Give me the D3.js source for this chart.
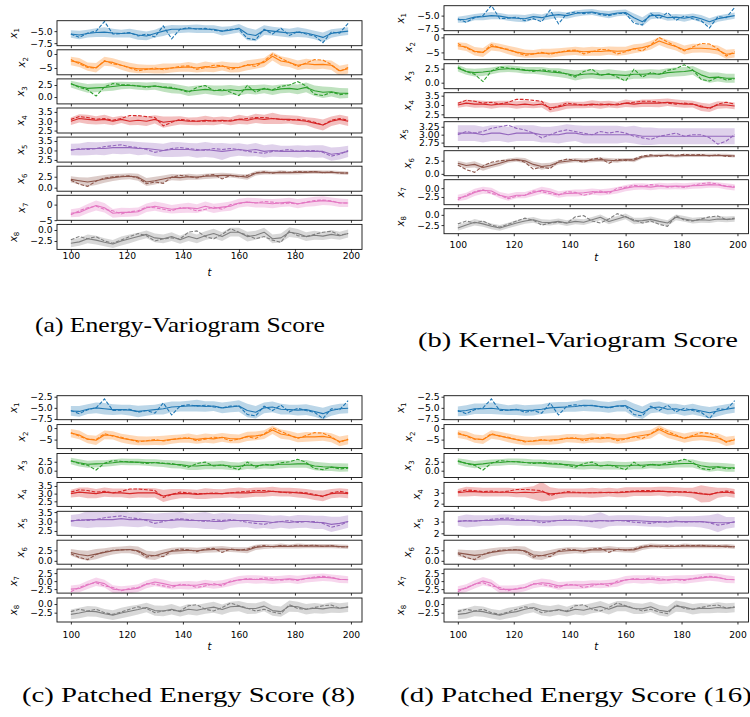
<!DOCTYPE html>
<html>
<head>
<meta charset="utf-8">
<script src="https://cdn.jsdelivr.net/npm/d3@7"></script>
<style>
  body { margin: 0; background: #fff; }
</style>
</head>
<body>
<svg id="fig" width="750" height="717"></svg>
<script>
// Data: time grid, shared ground truth, per-panel forecast mean and half-width of the band

const tGrid = [100,103,106,109,112,115,118,121,124,127,130,133,136,139,142,145,148,151,154,157,160,163,166,169,172,175,178,181,184,187,190,193,196,199];
const xTicks = [100, 120, 140, 160, 180, 200];
const seriesColors = ["#1f77b4","#ff7f0e","#2ca02c","#d62728","#9467bd","#8c564b","#e377c2","#7f7f7f"];
const seriesNames = ["1","2","3","4","5","6","7","8"];
const captions = ["(a) Energy-Variogram Score", "(b) Kernel-Variogram Score",
                  "(c) Patched Energy Score (8)", "(d) Patched Energy Score (16)"];

// dashed line (same observations in every panel)
const truth = [
  [-5.6,-6.3,-5.4,-5.0,-3.0,-5.6,-5.5,-5.3,-6.0,-5.6,-6.2,-3.9,-6.6,-4.6,-4.3,-4.6,-4.4,-4.8,-5.0,-4.6,-4.6,-6.5,-6.8,-4.6,-5.6,-4.4,-5.9,-5.1,-5.6,-6.0,-7.4,-5.2,-5.4,-3.4],
  [-2.0,-3.5,-4.8,-5.0,-2.4,-3.5,-4.0,-5.0,-6.0,-5.5,-5.0,-5.6,-5.0,-4.4,-4.2,-5.5,-4.8,-4.0,-4.2,-5.5,-4.8,-3.8,-4.5,-2.5,0.0,-1.5,-3.0,-4.5,-3.2,-2.0,-2.2,-3.8,-6.2,-4.8],
  [2.8,2.0,1.5,0.2,2.1,2.8,2.6,2.5,2.3,2.0,2.3,2.1,2.0,1.5,1.0,2.0,2.4,1.3,1.6,1.0,0.3,2.4,1.0,1.8,1.5,2.2,2.5,3.2,2.3,0.6,0.3,1.0,0.5,0.7],
  [3.1,3.25,3.2,3.1,3.15,3.05,3.15,3.3,3.3,3.25,3.2,2.75,2.95,3.1,3.05,3.0,3.0,3.05,3.0,3.05,3.1,3.15,3.2,3.2,3.15,3.1,3.05,3.1,3.05,2.95,2.8,3.05,3.15,3.05],
  [3.0,3.1,3.05,3.1,3.2,3.25,3.3,3.2,3.15,3.05,2.9,3.0,3.1,3.15,3.1,3.05,3.0,3.1,3.05,3.1,3.05,2.95,2.9,2.85,2.95,3.0,3.05,2.95,3.0,3.0,2.9,2.7,2.8,3.0],
  [1.7,0.8,0.3,1.5,2.2,2.5,2.6,2.7,2.2,0.9,1.3,1.0,2.4,2.8,2.6,2.2,2.8,3.0,2.0,2.8,2.5,2.8,3.4,3.6,3.3,3.6,3.5,3.7,3.6,3.7,3.4,3.6,3.3,3.4],
  [-3.3,-2.0,-1.0,-0.5,-1.5,-2.0,-3.0,-2.3,-2.0,-0.8,-1.0,-1.5,-2.0,-1.0,-1.2,-2.0,-1.5,-0.8,-1.5,0.0,0.3,0.8,0.5,1.0,0.8,0.3,0.5,0.2,0.8,1.3,1.5,1.2,0.5,0.5],
  [-2.2,-1.5,-2.0,-1.5,-2.5,-3.0,-2.3,-1.5,-0.8,-1.3,-2.5,-2.0,-1.8,-2.0,-0.5,-0.2,-1.5,-2.0,-1.0,0.3,-0.5,-1.2,-2.0,-1.5,-2.3,-2.8,-0.2,-1.3,-1.5,-1.0,-0.5,-0.3,-1.2,-0.8]
];

// (a) Energy-Variogram Score
const meanA = [
  [-5.6,-5.8,-5.5,-5.3,-5.2,-5.4,-5.5,-5.4,-5.8,-6.0,-5.5,-5.0,-4.6,-4.6,-4.5,-4.5,-4.6,-4.6,-5.0,-4.8,-4.4,-5.6,-5.9,-4.8,-5.0,-5.2,-5.4,-5.2,-5.4,-5.8,-6.3,-5.5,-5.2,-5.0],
  [-2.5,-3.0,-4.5,-4.9,-2.6,-3.0,-4.0,-4.8,-5.3,-5.3,-5.4,-5.2,-5.0,-4.8,-4.6,-5.0,-4.5,-4.8,-4.3,-4.8,-4.8,-4.0,-3.6,-3.0,-0.8,-2.5,-3.0,-4.0,-3.5,-3.8,-3.7,-4.0,-6.0,-5.3],
  [2.7,2.2,1.8,1.9,2.0,2.2,2.4,2.4,2.3,2.2,2.3,2.0,1.8,1.6,1.2,1.4,1.6,1.4,1.3,1.5,1.3,1.6,1.5,1.7,1.4,1.7,1.8,1.6,2.0,1.3,1.0,1.1,0.8,0.8],
  [3.0,3.15,3.1,3.05,3.1,3.0,3.1,3.0,3.05,3.0,3.1,2.95,3.0,3.05,3.0,3.0,3.05,3.0,3.05,3.0,3.1,3.05,3.15,3.1,3.15,3.1,3.1,3.05,3.0,2.9,2.8,3.0,3.1,3.0],
  [3.05,3.05,3.1,3.1,3.1,3.15,3.15,3.15,3.1,3.1,3.05,3.0,3.05,3.05,3.05,3.0,3.05,3.0,2.95,3.0,3.05,3.0,3.05,2.95,3.0,2.95,2.95,2.95,2.95,2.95,2.95,2.8,2.85,2.95],
  [1.9,1.6,1.3,1.6,2.0,2.3,2.5,2.6,2.4,1.3,1.6,2.0,2.4,2.3,2.5,2.4,2.6,2.7,2.8,2.8,2.6,2.4,3.3,3.5,3.4,3.5,3.4,3.5,3.5,3.6,3.5,3.5,3.4,3.3],
  [-2.8,-2.5,-1.3,-0.3,-1.0,-2.8,-2.5,-2.5,-2.3,-1.0,-0.5,-1.0,-1.5,-1.2,-1.0,-1.3,-0.5,-1.2,-0.8,-0.5,0.5,0.8,0.6,0.5,0.3,0.6,0.8,0.3,0.7,1.0,1.3,1.0,0.6,0.5],
  [-3.0,-2.7,-2.0,-2.3,-2.8,-3.2,-2.5,-2.0,-1.5,-1.0,-1.8,-2.0,-1.5,-2.2,-1.5,-2.0,-1.3,-0.8,-1.5,-0.5,-0.5,-1.5,-1.2,-0.5,-2.0,-1.8,-0.5,-0.8,-1.5,-1.2,-1.4,-1.0,-1.3,-0.8]
];
const hwA = [
  [0.8,0.9,0.8,0.9,1.0,0.9,0.8,0.9,1.0,0.9,0.8,1.0,0.9,0.8,0.8,0.9,0.8,0.8,0.9,0.8,0.9,1.3,1.2,1.0,0.9,0.9,0.9,1.0,0.9,0.9,1.0,0.9,0.8,0.8],
  [1.5,1.6,1.5,1.7,1.6,1.5,1.6,1.7,1.6,1.5,1.6,1.8,1.6,1.5,1.7,1.6,1.8,1.7,1.6,1.8,1.7,1.8,1.7,1.6,1.5,1.7,1.6,1.7,1.8,1.7,1.6,1.7,1.8,1.7],
  [0.7,0.8,0.9,0.9,0.8,0.9,0.8,0.7,0.8,0.8,0.8,0.9,1.0,0.9,1.0,1.0,0.9,1.0,1.1,1.0,1.0,0.9,1.0,0.9,1.0,0.9,0.9,1.0,1.0,1.1,1.2,1.0,1.1,1.0],
  [0.2,0.22,0.25,0.22,0.25,0.22,0.2,0.22,0.25,0.25,0.22,0.3,0.25,0.22,0.2,0.22,0.25,0.22,0.2,0.22,0.25,0.22,0.25,0.25,0.3,0.25,0.22,0.25,0.22,0.28,0.3,0.25,0.25,0.25],
  [0.3,0.32,0.35,0.33,0.35,0.33,0.35,0.33,0.35,0.32,0.35,0.35,0.4,0.38,0.35,0.38,0.4,0.38,0.45,0.35,0.33,0.32,0.35,0.32,0.33,0.3,0.3,0.33,0.3,0.33,0.32,0.35,0.33,0.3],
  [0.7,0.8,1.0,1.0,0.9,0.8,0.7,0.7,0.8,0.9,0.9,0.8,0.7,0.7,0.7,0.6,0.6,0.6,0.6,0.5,0.5,0.6,0.5,0.5,0.4,0.5,0.4,0.5,0.4,0.4,0.4,0.4,0.4,0.4],
  [1.3,1.4,1.5,1.6,1.5,1.4,1.5,1.4,1.4,1.4,1.5,1.5,1.4,1.5,1.6,1.4,1.5,1.5,1.4,1.5,1.4,1.4,1.5,1.4,1.5,1.4,1.4,1.5,1.4,1.5,1.4,1.3,1.4,1.3],
  [0.9,0.9,1.0,1.0,0.9,0.9,1.0,1.0,0.9,0.9,1.0,1.0,1.0,0.9,1.0,1.0,1.0,1.1,1.0,1.0,1.0,1.1,1.0,1.0,1.0,1.0,1.1,1.0,1.0,1.0,0.9,1.0,0.9,0.9]
];
const domA = [[-8.03,-2.83],[-7.43,1.5],[-1.43,3.77],[2.37,3.71],[2.385,3.705],[-0.8,4.9],[-5.05,3.0],[-4.41,1.27]];
const ticksA = [[-5,-7.5],[0,-5],[2.5,0],[3.5,3,2.5],[3.5,3,2.5],[2.5,0],[0,-5],[0,-2.5]];
const decA = [1,0,1,1,1,1,0,1];

// (b) Kernel-Variogram Score
const meanB = [
  [-5.8,-5.7,-5.3,-5.2,-5.0,-5.1,-5.4,-5.5,-5.6,-5.2,-5.4,-5.0,-4.8,-5.0,-4.6,-4.4,-4.3,-4.6,-4.8,-4.5,-4.4,-5.4,-6.2,-5.0,-4.9,-5.4,-5.3,-5.5,-5.2,-5.6,-6.2,-5.6,-5.3,-5.0],
  [-2.8,-3.2,-4.6,-5.0,-3.0,-3.4,-4.2,-4.9,-5.4,-5.5,-5.2,-5.3,-5.0,-4.7,-4.5,-4.8,-4.6,-4.7,-4.4,-4.6,-4.5,-3.8,-3.4,-2.6,-1.2,-2.2,-3.0,-4.2,-3.6,-3.6,-3.8,-4.2,-5.6,-5.3],
  [2.6,2.0,1.8,1.9,2.1,2.4,2.5,2.4,2.2,2.2,2.1,1.9,1.8,1.6,1.3,1.5,1.6,1.4,1.5,1.4,1.3,1.5,1.5,1.6,1.5,1.8,1.9,2.0,2.2,1.4,0.9,1.0,0.8,0.8],
  [3.0,3.1,3.05,3.05,3.0,3.05,3.05,3.0,3.05,3.0,3.05,2.85,2.9,3.0,3.0,3.0,3.05,3.0,3.05,3.0,3.1,3.05,3.1,3.1,3.1,3.15,3.1,3.05,3.05,2.9,2.85,3.0,3.0,2.95],
  [3.05,3.05,3.05,3.0,3.05,3.05,3.0,3.05,3.05,3.05,3.0,3.0,3.0,3.05,3.05,3.0,3.0,3.0,3.0,3.0,3.0,3.0,2.95,2.95,2.95,2.95,2.95,2.95,2.95,2.95,2.95,2.95,2.95,2.95],
  [2.0,1.6,1.8,1.2,1.6,2.0,2.5,2.7,2.5,1.8,1.4,1.6,2.2,2.4,2.6,2.5,2.6,2.7,2.6,2.5,2.7,2.6,3.2,3.4,3.5,3.5,3.4,3.5,3.5,3.5,3.5,3.5,3.5,3.4],
  [-2.8,-2.3,-1.2,-0.6,-0.8,-2.0,-2.6,-2.0,-2.0,-1.3,-0.6,-1.0,-1.8,-1.5,-1.4,-1.3,-1.0,-1.2,-1.0,-0.6,0.0,0.4,0.5,0.3,0.6,0.5,0.6,0.5,0.7,0.8,1.0,0.9,0.5,0.2],
  [-3.2,-2.5,-1.8,-2.2,-2.8,-3.2,-2.6,-2.0,-1.5,-1.2,-1.8,-1.9,-1.6,-2.0,-1.6,-1.8,-1.2,-0.6,-1.6,-1.0,-0.4,-1.5,-1.4,-1.1,-1.6,-2.0,-0.6,-1.0,-1.4,-1.2,-1.3,-1.0,-1.1,-1.0]
];
const hwB = [
  [0.6,0.7,0.6,0.7,0.7,0.6,0.6,0.7,0.7,0.6,0.6,0.7,0.6,0.6,0.6,0.6,0.6,0.6,0.7,0.6,0.6,0.8,0.9,0.7,0.6,0.6,0.6,0.7,0.6,0.7,0.7,0.6,0.6,0.6],
  [1.2,1.3,1.4,1.5,1.4,1.3,1.4,1.5,1.4,1.3,1.4,1.5,1.4,1.3,1.4,1.4,1.5,1.4,1.4,1.5,1.4,1.5,1.4,1.4,1.3,1.4,1.4,1.5,1.5,1.4,1.4,1.5,1.5,1.4],
  [0.6,0.6,0.7,0.7,0.6,0.6,0.6,0.6,0.6,0.6,0.7,0.7,0.8,0.8,0.9,0.8,0.8,0.8,0.9,0.8,0.8,0.8,0.8,0.8,0.8,0.8,0.8,0.8,0.8,0.9,0.9,0.8,0.8,0.8],
  [0.15,0.18,0.2,0.18,0.2,0.18,0.18,0.2,0.2,0.18,0.18,0.25,0.22,0.2,0.18,0.18,0.2,0.2,0.18,0.18,0.2,0.18,0.2,0.2,0.22,0.2,0.2,0.2,0.18,0.22,0.22,0.2,0.18,0.18],
  [0.25,0.25,0.25,0.25,0.25,0.25,0.25,0.25,0.25,0.25,0.25,0.25,0.28,0.28,0.25,0.28,0.28,0.28,0.28,0.28,0.25,0.28,0.28,0.28,0.25,0.25,0.25,0.25,0.25,0.25,0.25,0.25,0.25,0.25],
  [0.5,0.5,0.6,0.6,0.5,0.5,0.4,0.4,0.5,0.5,0.6,0.5,0.4,0.4,0.4,0.4,0.4,0.4,0.4,0.4,0.3,0.4,0.3,0.3,0.3,0.3,0.3,0.3,0.3,0.3,0.3,0.3,0.3,0.3],
  [0.9,1.0,1.0,1.0,0.9,0.9,1.0,0.9,0.9,0.9,1.0,1.0,0.9,0.9,1.0,0.9,0.9,0.9,0.9,0.9,0.9,0.9,0.9,0.9,0.9,0.9,0.9,0.9,0.9,0.9,0.9,0.8,0.9,0.9],
  [0.7,0.7,0.8,0.7,0.7,0.7,0.7,0.7,0.7,0.7,0.7,0.7,0.7,0.7,0.7,0.7,0.7,0.7,0.7,0.7,0.7,0.8,0.7,0.7,0.7,0.7,0.7,0.7,0.7,0.7,0.7,0.7,0.7,0.7]
];
const domB = [[-7.95,-3.06],[-7.43,0.9],[-1.07,3.39],[2.32,3.66],[2.62,3.41],[-0.35,4.4],[-4.7,2.4],[-4.6,1.5]];
const ticksB = [[-5,-7.5],[0,-5],[2.5,0],[3.5,3,2.5],[3.25,3,2.75],[2.5,0],[0,-2.5],[0,-2.5]];
const decB = [1,0,1,1,2,1,1,1];

// (c) Patched Energy Score (8)
const meanC = [
  [-5.7,-5.8,-5.3,-5.0,-5.2,-5.4,-5.4,-5.5,-5.8,-5.6,-5.4,-5.2,-4.8,-4.7,-4.6,-4.5,-4.7,-4.6,-5.0,-4.8,-4.6,-5.6,-6.0,-5.0,-4.8,-5.3,-5.4,-5.5,-5.4,-5.8,-6.3,-5.6,-5.2,-5.1],
  [-2.2,-3.0,-4.8,-5.3,-3.0,-3.2,-4.4,-5.0,-5.5,-5.6,-5.4,-5.4,-4.9,-4.6,-4.4,-4.9,-4.4,-4.7,-4.0,-4.6,-4.7,-3.6,-3.4,-2.8,-0.8,-2.6,-3.2,-4.2,-3.8,-3.8,-3.6,-4.2,-5.8,-5.0],
  [2.7,2.2,1.8,1.9,2.0,2.2,2.5,2.4,2.4,2.3,2.2,2.0,1.8,1.7,1.4,1.3,1.5,1.5,1.6,1.3,1.2,1.6,1.4,1.6,1.6,1.8,1.8,1.9,1.9,1.3,1.1,1.0,0.9,0.9],
  [3.0,3.1,3.05,3.0,3.1,3.05,3.05,3.0,3.05,3.05,3.05,2.85,2.95,3.0,3.0,2.95,3.0,3.0,3.0,3.05,3.05,3.05,3.1,3.1,3.15,3.1,3.1,3.05,3.0,2.9,2.85,3.0,3.05,3.0],
  [3.05,3.05,3.1,3.1,3.1,3.1,3.15,3.1,3.1,3.1,3.05,3.05,3.05,3.1,3.05,3.05,3.05,3.0,3.0,3.05,3.05,3.05,3.0,3.0,2.95,3.0,2.95,3.0,3.0,2.95,2.95,2.85,2.9,3.0],
  [2.0,1.5,1.2,1.6,2.0,2.4,2.6,2.7,2.4,1.4,1.2,1.8,2.3,2.4,2.5,2.4,2.6,2.7,2.8,2.7,2.6,2.5,3.2,3.4,3.4,3.5,3.4,3.5,3.5,3.5,3.5,3.5,3.4,3.3],
  [-2.5,-2.3,-1.2,-0.2,-0.8,-2.5,-2.8,-2.6,-2.2,-1.0,-0.3,-0.8,-1.4,-1.3,-1.3,-1.3,-0.8,-1.2,-0.9,-0.3,0.4,0.6,0.5,0.5,0.3,0.5,0.7,0.4,0.8,1.0,1.2,1.0,0.6,0.4],
  [-3.0,-2.6,-2.1,-2.2,-2.8,-3.2,-2.6,-2.1,-1.6,-1.0,-1.9,-2.0,-1.5,-2.2,-1.5,-1.8,-1.3,-0.9,-1.6,-0.8,-0.6,-1.3,-1.3,-0.6,-1.9,-2.2,-0.6,-0.8,-1.5,-1.2,-1.4,-1.0,-1.2,-0.9]
];
const hwC = [
  [1.1,1.2,1.1,1.2,1.3,1.2,1.1,1.2,1.3,1.2,1.1,1.3,1.2,1.1,1.2,1.3,1.2,1.1,1.2,1.2,1.3,1.5,1.4,1.2,1.2,1.2,1.1,1.2,1.2,1.2,1.3,1.2,1.1,1.1],
  [1.8,1.9,1.8,2.0,1.9,1.8,1.9,2.0,2.0,1.9,1.9,2.1,1.9,1.8,2.0,1.9,2.0,2.0,1.9,2.0,1.9,2.0,1.9,1.9,1.8,2.0,1.9,2.0,2.1,1.9,1.9,2.0,2.1,2.0],
  [0.9,1.0,1.0,1.0,0.9,0.9,0.9,0.9,0.9,0.9,1.0,1.0,1.1,1.1,1.2,1.1,1.1,1.1,1.2,1.1,1.1,1.1,1.1,1.0,1.1,1.1,1.0,1.1,1.1,1.2,1.2,1.1,1.2,1.1],
  [0.25,0.3,0.35,0.3,0.3,0.28,0.28,0.3,0.3,0.32,0.3,0.4,0.35,0.3,0.28,0.3,0.35,0.3,0.28,0.3,0.35,0.3,0.3,0.3,0.3,0.28,0.28,0.3,0.3,0.32,0.35,0.3,0.3,0.3],
  [0.3,0.35,0.45,0.4,0.4,0.38,0.4,0.38,0.4,0.35,0.38,0.4,0.42,0.4,0.38,0.4,0.45,0.4,0.45,0.38,0.35,0.35,0.38,0.35,0.35,0.33,0.33,0.35,0.33,0.35,0.35,0.4,0.35,0.33],
  [0.8,1.0,1.2,1.2,1.0,0.9,0.8,0.9,1.0,1.0,1.0,0.9,0.8,0.8,0.7,0.7,0.7,0.7,0.7,0.6,0.6,0.7,0.6,0.6,0.5,0.6,0.5,0.6,0.5,0.5,0.5,0.5,0.5,0.5],
  [1.1,1.2,1.3,1.3,1.2,1.2,1.2,1.2,1.2,1.2,1.3,1.3,1.2,1.2,1.3,1.2,1.2,1.2,1.2,1.2,1.2,1.2,1.3,1.2,1.2,1.2,1.2,1.3,1.2,1.2,1.2,1.1,1.2,1.1],
  [1.4,1.5,1.5,1.5,1.4,1.4,1.5,1.5,1.4,1.4,1.5,1.5,1.5,1.4,1.5,1.5,1.5,1.6,1.5,1.5,1.5,1.6,1.5,1.5,1.5,1.5,1.6,1.5,1.5,1.5,1.4,1.5,1.4,1.4]
];
const domC = [[-7.66,-2.27],[-8.9,1.5],[-1.9,4.8],[2.17,3.73],[2.27,3.54],[-0.8,4.9],[-3.75,3.75],[-5.2,1.75]];
const ticksC = [[-2.5,-5,-7.5],[0,-5],[2.5,0],[3.5,3,2.5],[3.5,3,2.5],[2.5,0],[2.5,0,-2.5],[0,-2.5]];
const decC = [1,0,1,1,1,1,1,1];

// (d) Patched Energy Score (16)
const meanD = [
  [-5.8,-5.6,-5.2,-5.2,-5.1,-5.3,-5.5,-5.4,-5.6,-5.5,-5.3,-5.0,-4.9,-4.8,-4.7,-4.4,-4.5,-4.7,-4.9,-4.6,-4.5,-5.5,-6.1,-5.0,-4.8,-5.3,-5.2,-5.6,-5.3,-5.7,-6.1,-5.7,-5.3,-5.0],
  [-2.6,-3.2,-4.6,-5.0,-2.8,-3.4,-4.3,-5.0,-5.6,-5.7,-5.3,-5.2,-5.0,-4.4,-4.5,-4.8,-4.3,-4.6,-4.2,-4.8,-4.5,-3.8,-3.2,-2.6,-0.6,-2.4,-3.4,-4.4,-3.6,-3.4,-3.8,-4.3,-5.8,-5.2],
  [2.6,2.1,1.7,1.9,2.2,2.3,2.5,2.5,2.3,2.2,2.1,1.9,1.8,1.7,1.5,1.4,1.6,1.4,1.5,1.4,1.3,1.5,1.5,1.7,1.6,1.7,1.9,2.0,2.0,1.4,1.0,1.1,0.9,0.8],
  [3.0,3.1,3.1,3.05,3.05,3.05,3.05,3.0,3.05,3.0,3.1,2.9,2.95,3.0,3.0,3.0,3.0,3.0,3.05,3.0,3.05,3.1,3.1,3.1,3.15,3.1,3.1,3.05,3.0,2.9,2.85,3.0,3.05,2.95],
  [3.05,3.05,3.05,3.1,3.1,3.15,3.15,3.1,3.1,3.1,3.05,3.05,3.1,3.1,3.1,3.05,3.05,3.1,3.05,3.1,3.1,3.1,3.05,3.0,3.0,2.95,3.0,3.0,3.0,3.0,2.95,2.9,2.9,2.95],
  [1.9,1.6,1.3,1.5,2.0,2.3,2.5,2.6,2.4,1.4,1.2,1.7,2.2,2.4,2.5,2.4,2.6,2.6,2.8,2.7,2.6,2.6,3.2,3.5,3.5,3.4,3.4,3.5,3.5,3.5,3.5,3.4,3.5,3.3],
  [-2.8,-2.2,-1.0,0.0,-0.7,-2.6,-2.6,-2.5,-2.0,-1.0,-0.5,-0.8,-1.5,-1.3,-1.2,-1.2,-0.9,-1.0,-0.8,-0.5,0.4,0.6,0.5,0.6,0.3,0.4,0.6,0.5,0.7,1.0,1.3,1.1,0.6,0.4],
  [-3.0,-2.7,-2.0,-2.2,-2.8,-3.2,-2.6,-2.2,-1.5,-1.0,-1.8,-2.1,-1.6,-2.2,-1.5,-1.8,-1.2,-0.7,-1.5,-0.6,-0.6,-1.3,-1.4,-0.8,-1.8,-2.2,-0.6,-0.9,-1.5,-1.2,-1.3,-1.0,-1.2,-1.0]
];
const hwD = [
  [1.1,1.2,1.2,1.2,1.3,1.2,1.1,1.2,1.2,1.2,1.1,1.2,1.2,1.1,1.2,1.3,1.3,1.2,1.2,1.2,1.3,1.5,1.4,1.2,1.2,1.2,1.1,1.2,1.2,1.2,1.3,1.2,1.1,1.1],
  [1.7,1.8,1.8,1.9,1.8,1.8,1.9,1.9,1.9,1.8,1.9,2.0,1.9,1.8,1.9,1.9,2.0,1.9,1.9,2.0,1.9,2.0,1.9,1.9,1.8,1.9,1.9,2.0,2.0,1.9,1.9,2.0,2.0,1.9],
  [0.9,1.0,1.0,1.0,0.9,0.9,0.9,0.9,1.0,0.9,1.0,1.0,1.1,1.1,1.1,1.1,1.1,1.1,1.2,1.1,1.1,1.1,1.1,1.0,1.1,1.1,1.0,1.1,1.1,1.2,1.3,1.1,1.2,1.1],
  [0.35,0.45,0.4,0.4,0.4,0.4,0.4,0.4,0.45,0.6,0.9,0.6,0.45,0.4,0.4,0.4,0.45,0.4,0.4,0.4,0.45,0.4,0.4,0.4,0.4,0.45,0.4,0.4,0.45,0.8,0.7,0.45,0.4,0.4],
  [0.4,0.55,0.5,0.45,0.45,0.45,0.45,0.45,0.45,0.45,0.45,0.45,0.45,0.45,0.45,0.45,0.55,0.7,0.45,0.45,0.45,0.45,0.45,0.45,0.45,0.45,0.45,0.45,0.45,0.5,0.6,0.8,0.5,0.45],
  [0.8,1.0,1.2,1.2,1.0,0.9,0.8,0.9,1.0,1.0,1.0,0.9,0.8,0.8,0.7,0.7,0.7,0.7,0.7,0.6,0.6,0.7,0.6,0.6,0.5,0.6,0.5,0.6,0.5,0.5,0.5,0.5,0.5,0.5],
  [1.2,1.2,1.3,1.3,1.2,1.2,1.2,1.2,1.2,1.2,1.3,1.3,1.2,1.2,1.3,1.2,1.2,1.2,1.2,1.3,1.2,1.2,1.3,1.2,1.3,1.2,1.2,1.3,1.2,1.2,1.2,1.2,1.2,1.1],
  [1.4,1.5,1.5,1.5,1.4,1.4,1.5,1.5,1.4,1.4,1.5,1.5,1.5,1.4,1.5,1.5,1.5,1.6,1.5,1.5,1.5,1.6,1.5,1.5,1.5,1.5,1.6,1.5,1.5,1.5,1.4,1.5,1.4,1.4]
];
const domD = [[-7.66,-2.27],[-8.9,1.5],[-1.9,4.8],[1.75,3.95],[1.83,3.88],[-0.8,4.9],[-3.75,3.75],[-5.2,1.75]];
const ticksD = [[-2.5,-5,-7.5],[0,-5],[2.5,0],[3,2],[3,2],[2.5,0],[2.5,0,-2.5],[0,-2.5]];
const decD = [1,0,1,0,0,1,1,1];

// Layout of the four panels
const panels = [
  {left: 57,  right: 362,   top: 20.7,  pitch: 29.1, h: 25, mean: meanA, hw: hwA, dom: domA, ticks: ticksA, dec: decA,
   xLabY: 259, tLabY: 276, cap: {x: 35, y: 332, len: 290}},
  {left: 444, right: 748.5, top: 5.7,   pitch: 29.0, h: 25, mean: meanB, hw: hwB, dom: domB, ticks: ticksB, dec: decB,
   xLabY: 248.5, tLabY: 261, cap: {x: 418, y: 347, len: 320}},
  {left: 57,  right: 362,   top: 395.7, pitch: 28.9, h: 24, mean: meanC, hw: hwC, dom: domC, ticks: ticksC, dec: decC,
   xLabY: 637.5, tLabY: 650, cap: {x: 22, y: 702, len: 333}},
  {left: 444, right: 748.5, top: 395.7, pitch: 28.9, h: 24, mean: meanD, hw: hwD, dom: domD, ticks: ticksD, dec: decD,
   xLabY: 637.5, tLabY: 650, cap: {x: 400, y: 702, len: 352}}
];

const svg = d3.select("#fig");
const defs = svg.append("defs");
const tickFont = "DejaVu Sans";
const tickSize = 9.2;
const captionFont = "'Liberation Serif', 'DejaVu Serif', serif";

function drawPanel(p, pi) {
  const x = d3.scaleLinear().domain([95.05, 203.95]).range([p.left, p.right]);

  for (let i = 0; i < 8; i++) {
    const top = p.top + i * p.pitch;
    const y = d3.scaleLinear().domain(p.dom[i]).range([top + p.h, top]);
    const g = svg.append("g");

    const clipId = "clip" + pi + "_" + i;
    defs.append("clipPath").attr("id", clipId)
      .append("rect").attr("x", p.left).attr("y", top)
      .attr("width", p.right - p.left).attr("height", p.h);

    const rows = tGrid.map((t, k) => ({t: t, m: p.mean[i][k], w: p.hw[i][k], v: truth[i][k]}));
    const plot = g.append("g").attr("clip-path", "url(#" + clipId + ")");

    // uncertainty band
    plot.append("path").datum(rows)
      .attr("fill", seriesColors[i]).attr("fill-opacity", 0.3)
      .attr("d", d3.area().x(d => x(d.t)).y0(d => y(d.m - d.w)).y1(d => y(d.m + d.w)));
    // forecast mean
    plot.append("path").datum(rows)
      .attr("fill", "none").attr("stroke", seriesColors[i]).attr("stroke-width", 1.1)
      .attr("stroke-linejoin", "round")
      .attr("d", d3.line().x(d => x(d.t)).y(d => y(d.m)));
    // observations, dashed
    plot.append("path").datum(rows)
      .attr("fill", "none").attr("stroke", seriesColors[i]).attr("stroke-width", 1.1)
      .attr("stroke-dasharray", "3.7,1.6")
      .attr("d", d3.line().x(d => x(d.t)).y(d => y(d.v)));

    // y axis
    const fmt = d3.format("." + p.dec[i] + "f");
    const ya = g.append("g").attr("transform", "translate(" + p.left + ",0)")
      .call(d3.axisLeft(y).tickValues(p.ticks[i]).tickFormat(fmt).tickSize(2.5).tickPadding(2));
    ya.select(".domain").remove();
    ya.attr("font-family", tickFont).attr("font-size", tickSize);
    ya.selectAll("line").attr("stroke", "#000").attr("stroke-width", 0.8);

    // x axis (labels only on the bottom row)
    const xa = g.append("g").attr("transform", "translate(0," + (top + p.h) + ")")
      .call(d3.axisBottom(x).tickValues(xTicks).tickSize(2.5)
        .tickFormat(i === 7 ? d3.format("d") : () => ""));
    xa.select(".domain").remove();
    xa.attr("font-family", tickFont).attr("font-size", tickSize);
    xa.selectAll("line").attr("stroke", "#000").attr("stroke-width", 0.8);
    xa.selectAll("text").attr("y", p.xLabY - (top + p.h)).attr("dy", null);

    // frame
    g.append("rect").attr("x", p.left).attr("y", top)
      .attr("width", p.right - p.left).attr("height", p.h)
      .attr("fill", "none").attr("stroke", "#111").attr("stroke-width", 0.9);

    // y label x_i, placed left of the tick labels
    let minX = Infinity;
    ya.selectAll("text").each(function() {
      minX = Math.min(minX, this.getBoundingClientRect().left);
    });
    const lab = g.append("text")
      .attr("transform", "translate(" + (minX - 13.5) + "," + (top + p.h / 2) + ") rotate(-90)")
      .attr("text-anchor", "middle")
      .attr("font-family", tickFont).attr("font-size", 10);
    lab.append("tspan").attr("font-style", "italic").text("x");
    lab.append("tspan").attr("font-size", 7).attr("dy", 2.4).text(seriesNames[i]);
  }

  // x axis title
  svg.append("text")
    .attr("x", (p.left + p.right) / 2).attr("y", p.tLabY)
    .attr("text-anchor", "middle")
    .attr("font-family", tickFont).attr("font-size", 10).attr("font-style", "italic")
    .text("t");

  // subfigure caption
  svg.append("text")
    .attr("x", p.cap.x).attr("y", p.cap.y)
    .style("font-family", captionFont).attr("font-size", 22)
    .attr("textLength", p.cap.len).attr("lengthAdjust", "spacingAndGlyphs")
    .text(captions[pi]);
}

panels.forEach(drawPanel);
</script>
</body>
</html>
